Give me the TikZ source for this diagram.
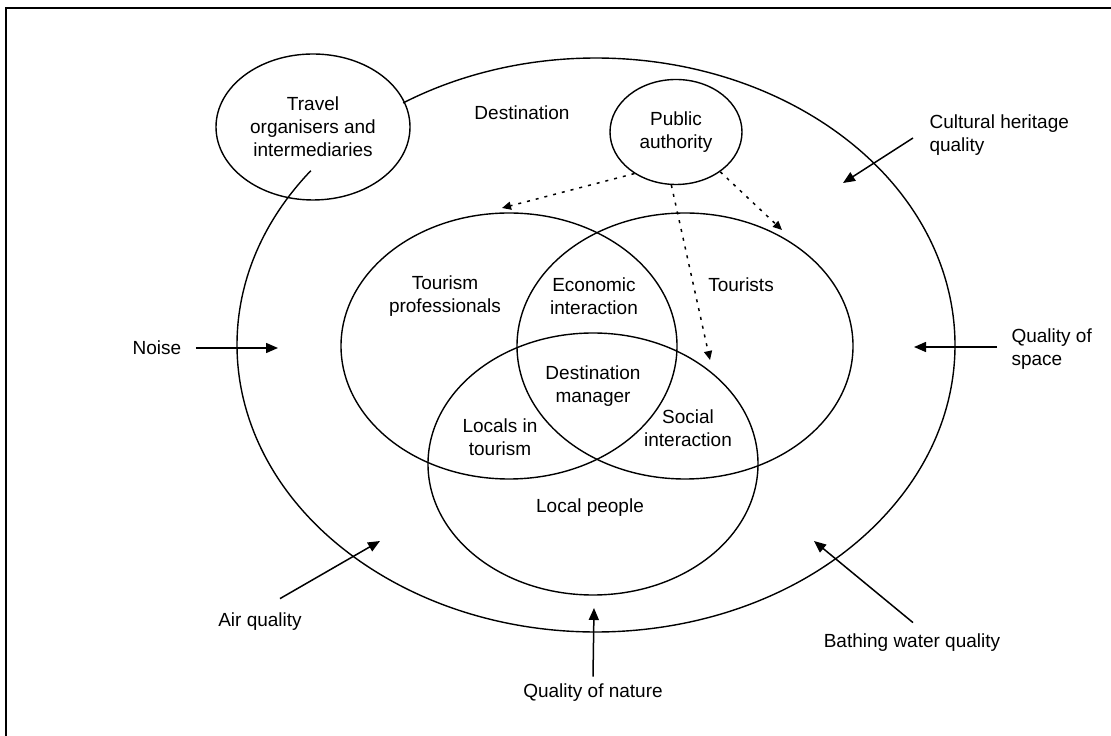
\documentclass[tikz,border=0pt]{standalone}
\usepackage{fontspec}
\setmainfont{Liberation Sans}
\usepackage{tikz}
\usetikzlibrary{arrows.meta,shapes.geometric}
\newcommand{\Zone}[4]{% name centre width height
\node[zone,minimum width=#3,minimum height=#4] (#1) at (#2) {};
}

\begin{document}
\begin{tikzpicture}[x=1pt,y=1pt,
  zone/.style={ellipse,draw,line width=1.4pt,inner sep=0pt},
  lbl/.style={align=center,font=\fontsize{19}{23}\selectfont},
  factor/.style={-{Triangle[length=12pt,width=10pt]},line width=1.5pt},
  policy/.style={-{Triangle[length=9pt,width=8pt]},line width=1.5pt,dash pattern=on 3pt off 6pt}]
\useasboundingbox (0,0) rectangle (1111,736);
\draw[line width=2.6pt] (6,0) -- (6,728) -- (1111,728);
% destination, open where it runs under the travel organisers
\draw[line width=1.4pt] (596,391) ++(142.6:359pt and 287pt)
  arc[start angle=142.6,end angle=482.5,x radius=359pt,y radius=287pt];
\node[zone,lbl,minimum width=194pt,minimum height=146pt] (travel) at (313,609)
  {Travel\\organisers and\\intermediaries};
\node[zone,lbl,minimum width=132pt,minimum height=105pt] (pa) at (676,604)
  {Public\\authority};
\node[lbl] (dest) at (522,623) {Destination};
% the three groups
\Zone{prof}{509,390}{336pt}{266pt}
\Zone{tour}{685,390}{336pt}{266pt}
\Zone{loc}{593,272}{330pt}{262pt}
\node[lbl] (profT) at (445,440) {Tourism\\professionals};
\node[lbl] (econ) at (594,440) {Economic\\interaction};
\node[lbl] (tourT) at (741,451) {Tourists};
\node[lbl] (mgr) at (593,350) {Destination\\manager};
\node[lbl] (lit) at (500,299) {Locals in\\tourism};
\node[lbl] (soc) at (688,308) {Social\\interaction};
\node[lbl] (locT) at (590,228) {Local people};
% policy links
\coordinate (hProf) at (502,528);
\coordinate (hSoc) at (710,376);
\coordinate (hTour) at (782,506);
\draw[policy] (pa.225) -- (hProf);
\draw[policy] (pa.265) -- (hSoc);
\draw[policy] (pa.318) -- (hTour);
% outside factors
\node[lbl] (noise) at (157,388) {Noise};
\node[lbl,anchor=west,align=left] (cult) at (926,601) {Cultural heritage\\quality};
\node[lbl,anchor=west,align=left] (space) at (1008,387) {Quality of\\space};
\node[lbl] (air) at (260,114) {Air quality};
\node[lbl] (bath) at (912,93) {Bathing water quality};
\node[lbl] (nat) at (593,43) {Quality of nature};
\coordinate (hNoise) at (278,388);
\coordinate (hCult) at (843,553);
\coordinate (hSpace) at (914,389);
\coordinate (hAir) at (380,195);
\coordinate (hBath) at (814,195);
\coordinate (hNat) at (594,128);
\draw[factor] ([xshift=11pt]noise.east) -- (hNoise);
\draw[factor] ([xshift=-13pt,yshift=-3pt]cult.west) -- (hCult);
\draw[factor] ([xshift=-11pt,yshift=2pt]space.west) -- (hSpace);
\draw[factor] ([xshift=20pt,yshift=11pt]air.north) -- (hAir);
\draw[factor] ([xshift=1pt,yshift=8pt]bath.north) -- (hBath);
\draw[factor] ([yshift=4pt]nat.north) -- (hNat);
\end{tikzpicture}
\end{document}
